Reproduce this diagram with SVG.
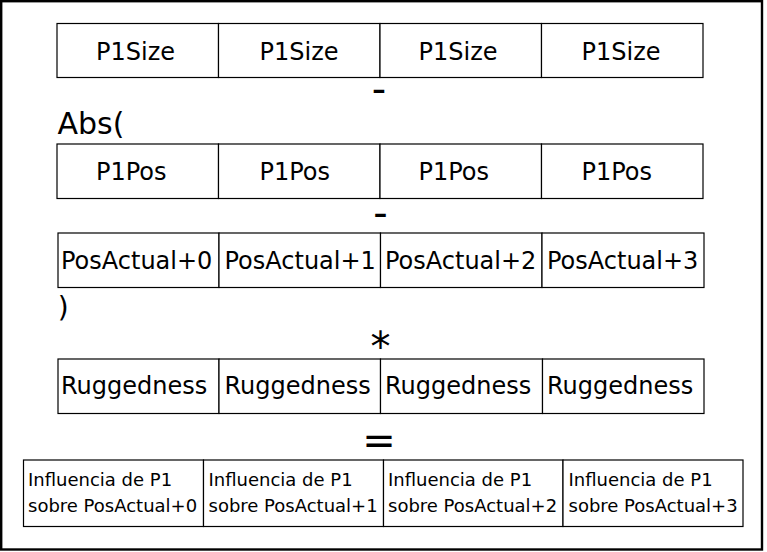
<svg xmlns="http://www.w3.org/2000/svg" width="767" height="552" viewBox="0 0 767 552">
<style>
.box{fill:#fff;stroke:#000;stroke-width:1.2}
.t{font-family:"DejaVu Sans",sans-serif;font-size:24px;fill:#000}
.s{font-family:"DejaVu Sans",sans-serif;font-size:18px;fill:#000}
.op{font-family:"DejaVu Sans",sans-serif;font-size:40px;fill:#000;text-anchor:middle}
</style>
<rect x="0" y="0" width="767" height="552" fill="#fff"/>
<rect x="1.2" y="1.2" width="760.8" height="548.3" fill="none" stroke="#000" stroke-width="2.4"/>
<g id="row1">
<g id="n1a"><rect class="box" x="57" y="23.5" width="161.5" height="54"/><text class="t" x="96" y="60">P1Size</text></g>
<g id="n1b"><rect class="box" x="218.5" y="23.5" width="161.5" height="54"/><text class="t" x="259.5" y="60">P1Size</text></g>
<g id="n1c"><rect class="box" x="380" y="23.5" width="161.5" height="54"/><text class="t" x="418.5" y="60">P1Size</text></g>
<g id="n1d"><rect class="box" x="541.5" y="23.5" width="161.5" height="54"/><text class="t" x="581.5" y="60">P1Size</text></g>
</g>
<g id="row2">
<g id="n2a"><rect class="box" x="57" y="144" width="161.5" height="54.5"/><text class="t" x="96" y="180">P1Pos</text></g>
<g id="n2b"><rect class="box" x="218.5" y="144" width="161.5" height="54.5"/><text class="t" x="259.5" y="180">P1Pos</text></g>
<g id="n2c"><rect class="box" x="380" y="144" width="161.5" height="54.5"/><text class="t" x="418.5" y="180">P1Pos</text></g>
<g id="n2d"><rect class="box" x="541.5" y="144" width="161.5" height="54.5"/><text class="t" x="581.5" y="180">P1Pos</text></g>
</g>
<g id="row3">
<g id="n3a"><rect class="box" x="58" y="233" width="161" height="54.5"/><text class="t" x="61" y="269">PosActual+0</text></g>
<g id="n3b"><rect class="box" x="219" y="233" width="161.5" height="54.5"/><text class="t" x="224.5" y="269">PosActual+1</text></g>
<g id="n3c"><rect class="box" x="380.5" y="233" width="161.5" height="54.5"/><text class="t" x="385" y="269">PosActual+2</text></g>
<g id="n3d"><rect class="box" x="542" y="233" width="162" height="54.5"/><text class="t" x="547" y="269">PosActual+3</text></g>
</g>
<g id="row4">
<g id="n4a"><rect class="box" x="58" y="359" width="161" height="54.5"/><text class="t" x="61" y="394">Ruggedness</text></g>
<g id="n4b"><rect class="box" x="219" y="359" width="161.5" height="54.5"/><text class="t" x="224.5" y="394">Ruggedness</text></g>
<g id="n4c"><rect class="box" x="380.5" y="359" width="162" height="54.5"/><text class="t" x="385" y="394">Ruggedness</text></g>
<g id="n4d"><rect class="box" x="542.5" y="359" width="161.5" height="54.5"/><text class="t" x="547" y="394">Ruggedness</text></g>
</g>
<g id="row5">
<g id="n5a"><rect class="box" x="23.5" y="460" width="180" height="66.5"/><text class="s" x="28" y="486">Influencia de P1</text><text class="s" x="28" y="511.5">sobre PosActual+0</text></g>
<g id="n5b"><rect class="box" x="203.5" y="460" width="180" height="66.5"/><text class="s" x="208.5" y="486">Influencia de P1</text><text class="s" x="208.5" y="511.5">sobre PosActual+1</text></g>
<g id="n5c"><rect class="box" x="383.5" y="460" width="179.5" height="66.5"/><text class="s" x="388" y="486">Influencia de P1</text><text class="s" x="388" y="511.5">sobre PosActual+2</text></g>
<g id="n5d"><rect class="box" x="563" y="460" width="180" height="66.5"/><text class="s" x="568.5" y="486">Influencia de P1</text><text class="s" x="568.5" y="511.5">sobre PosActual+3</text></g>
</g>
<g id="operators">
<text class="op" x="379" y="102.5">-</text>
<text class="op" x="380.5" y="226.5">-</text>
<text class="op" x="380.5" y="360.5">*</text>
<text class="op" x="379" y="453.5">=</text>
<text style="font-family:'DejaVu Sans',sans-serif;font-size:30px" x="57.5" y="134.3">Abs(</text>
<text style="font-family:'DejaVu Sans',sans-serif;font-size:28px" x="57.8" y="317">)</text>
</g>
</svg>
